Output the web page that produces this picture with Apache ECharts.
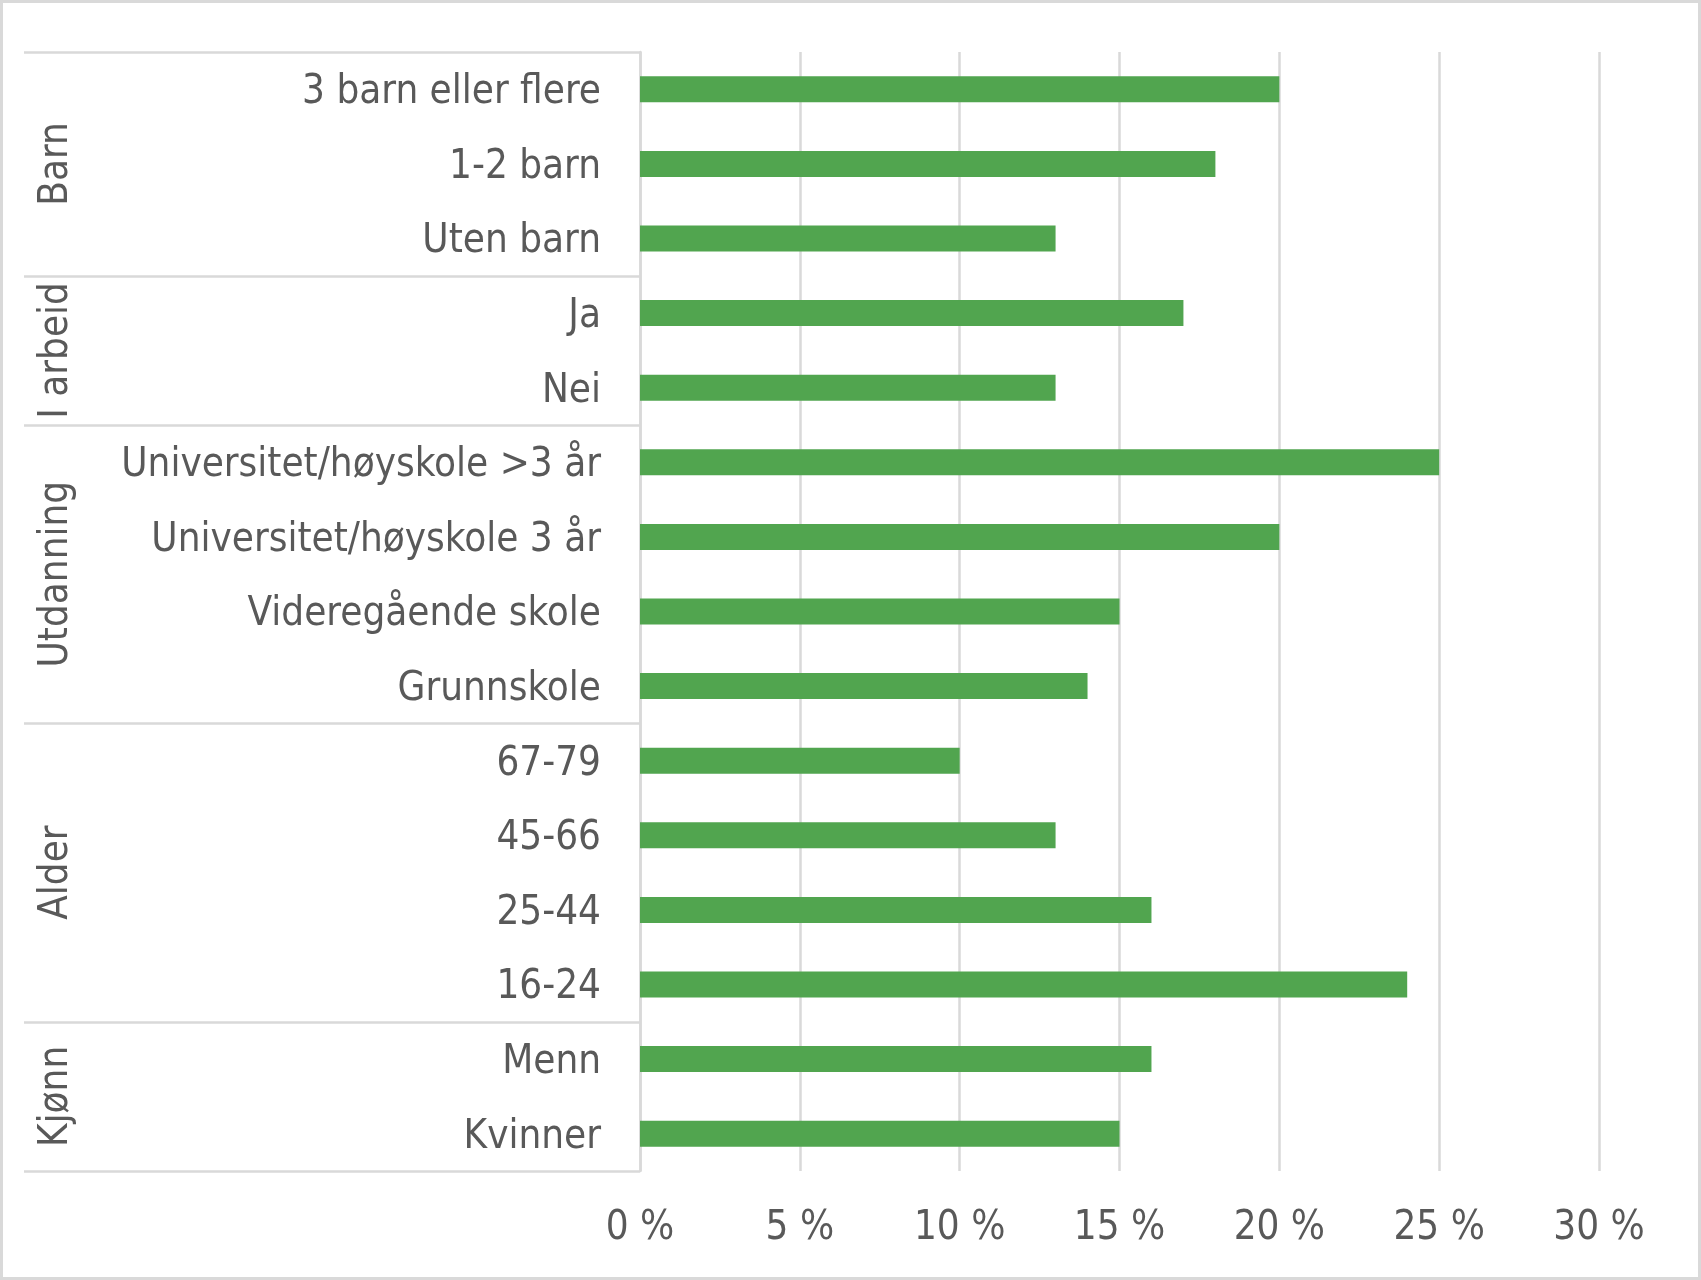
<!DOCTYPE html>
<html>
<head>
<meta charset="utf-8">
<script src="https://cdn.jsdelivr.net/npm/echarts@6/dist/echarts.min.js"></script>
<style>
html,body{margin:0;padding:0;background:#fff;}
#chart{width:1701px;height:1280px;}
</style>
</head>
<body>
<div id="chart"></div>
<script>
// Categories listed bottom to top
const categories = ['Kvinner','Menn','16-24','25-44','45-66','67-79','Grunnskole','Videregående skole','Universitet/høyskole 3 år','Universitet/høyskole >3 år','Nei','Ja','Uten barn','1-2 barn','3 barn eller flere'];
const values = [15,16,24,16,13,10,14,15,20,25,13,17,13,18,20];
// Groups (bottom to top) and how many categories each spans
const groupNames = ['Kjønn','Alder','Utdanning','I arbeid','Barn'];
const groupSizes = [2,4,4,2,3];
const xTicks = [0,5,10,15,20,25,30];

const FONT = "'DejaVu Sans Condensed','DejaVu Sans',sans-serif";
const TXT = '#595959';
const GRID = '#d9d9d9';

// group boundaries and centres in category units
const bounds = [0];
groupSizes.forEach(s => bounds.push(bounds[bounds.length-1] + s));
const centres = groupSizes.map((s,i) => bounds[i] + s/2);

const chart = echarts.init(document.getElementById('chart'), null, {renderer:'canvas'});
chart.setOption({
  animation:false,
  backgroundColor:'#fff',
  graphic:[{type:'rect',shape:{x:1.5,y:1.5,width:1698,height:1277},style:{fill:'none',stroke:GRID,lineWidth:3},silent:true}],
  grid:{left:640,right:102,top:52,bottom:109,containLabel:false},
  xAxis:{
    type:'value',min:xTicks[0],max:xTicks[xTicks.length-1],interval:5,
    axisLine:{show:false},axisTick:{show:false},
    splitLine:{show:true,lineStyle:{color:GRID,width:2.5}},
    axisLabel:{formatter:v=>v+' %',color:TXT,fontFamily:FONT,fontSize:40,margin:38}
  },
  yAxis:[{
    type:'category',data:categories,
    axisLine:{show:true,lineStyle:{color:GRID,width:2.5}},
    axisTick:{show:false},
    axisLabel:{color:TXT,fontFamily:FONT,fontSize:40,margin:39,
      formatter:v=>'{a|'+v+'}',
      rich:{a:{color:TXT,fontFamily:FONT,fontSize:40,padding:[7,0,0,0]}}}
  },{
    type:'value',min:0,max:categories.length,position:'left',
    axisLine:{show:false},splitLine:{show:false},
    axisTick:{show:true,customValues:bounds,length:616,lineStyle:{color:GRID,width:2.5}},
    axisLabel:{show:true,customValues:centres,rotate:90,margin:563,color:TXT,fontFamily:FONT,fontSize:40,
      formatter:v=>{const i=centres.indexOf(v);return i>=0?groupNames[i]:'';}}
  }],
  series:[{
    type:'bar',yAxisIndex:0,data:values,barWidth:26,
    itemStyle:{color:'#51A54F'}
  }]
});
</script>
</body>
</html>
